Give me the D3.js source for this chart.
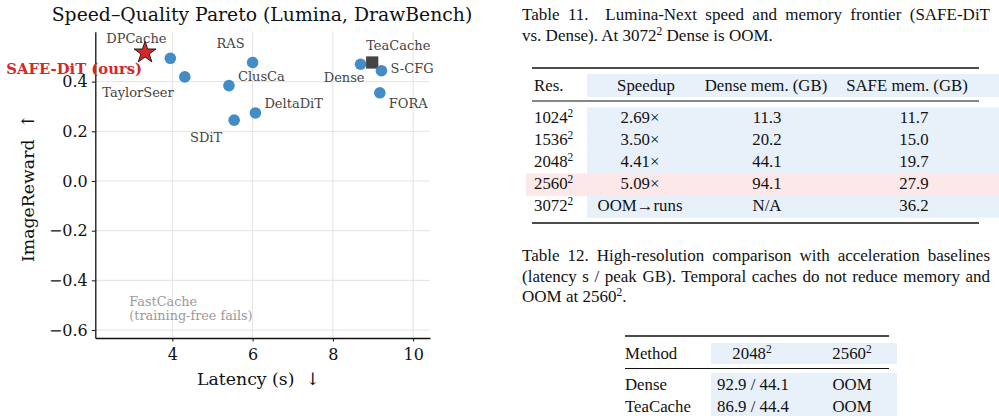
<!DOCTYPE html>
<html><head><meta charset="utf-8">
<script src="https://cdn.jsdelivr.net/npm/d3@7"></script>
<style>html,body{margin:0;padding:0;background:#fff;overflow:hidden}</style>
</head><body>
<svg id="c" width="999" height="416"></svg>
<script>
// ---------------- data ----------------
const methods  = ["SAFE-DiT (ours)","DPCache","TaylorSeer","RAS","ClusCa","DeltaDiT","SDiT","Dense","TeaCache","S-CFG","FORA","FastCache"];
const latency  = [3.32, 3.95, 4.31, 6.00, 5.41, 6.07, 5.54, 8.69, 8.98, 9.21, 9.17, 2.58];
const reward   = [0.517,0.494,0.419,0.477,0.384,0.274,0.245,0.470,0.477,0.444,0.355,-0.572];
const markers  = ["star","circle","circle","circle","circle","circle","circle","circle","square","circle","circle","cross"];
const xTicks   = [4,6,8,10];
const yTicks   = [-0.6,-0.4,-0.2,0.0,0.2,0.4];

const t11Header   = ["Res.","Speedup","Dense mem. (GB)","SAFE mem. (GB)"];
const t11Res      = ["1024","1536","2048","2560","3072"];
const t11Speedup  = ["2.69×","3.50×","4.41×","5.09×","OOM→runs"];
const t11DenseMem = ["11.3","20.2","44.1","94.1","N/A"];
const t11SafeMem  = ["11.7","15.0","19.7","27.9","36.2"];

const t12Header   = ["Method","2048","2560"];
const t12Methods  = ["Dense","TeaCache"];
const t12At2048   = ["92.9 / 44.1","86.9 / 44.4"];
const t12At2560   = ["OOM","OOM"];

// ---------------- chart ----------------
const svg = d3.select("#c");
const serif = "'DejaVu Serif', serif";
const times = "'Liberation Serif', 'Times New Roman', serif";

const x = d3.scaleLinear().domain([2.08,10.42]).range([95.3,430]);
const y = d3.scaleLinear().domain([-0.632,0.601]).range([338,31.7]);

const g = svg.append("g");
// grid
g.append("g").selectAll("line").data(xTicks).join("line")
  .attr("x1",d=>x(d)).attr("x2",d=>x(d)).attr("y1",y.range()[1]).attr("y2",y.range()[0])
  .attr("stroke","#e3e3e3").attr("stroke-width",1);
g.append("g").selectAll("line").data(yTicks).join("line")
  .attr("y1",d=>y(d)).attr("y2",d=>y(d)).attr("x1",x.range()[0]).attr("x2",x.range()[1])
  .attr("stroke","#e3e3e3").attr("stroke-width",1);

// axes
const xa = g.append("g").attr("transform",`translate(0,${y.range()[0]})`)
  .call(d3.axisBottom(x).tickValues(xTicks).tickSize(3.5).tickSizeOuter(0).tickPadding(7).tickFormat(d3.format("d")));
const ya = g.append("g").attr("transform",`translate(${x.range()[0]},0)`)
  .call(d3.axisLeft(y).tickValues(yTicks).tickSize(3.5).tickSizeOuter(0).tickPadding(4).tickFormat(d3.format(".1f")));
[xa,ya].forEach(a=>{
  a.selectAll("text").attr("font-family",serif).attr("font-size",16).attr("fill","#111");
  a.selectAll("line").attr("stroke","#111").attr("stroke-width",1);
  a.select(".domain").attr("stroke","#111").attr("stroke-width",1.3);
});

// title & labels
svg.append("text").attr("x",262).attr("y",21).attr("text-anchor","middle")
  .attr("font-family",serif).attr("font-size",18.8).attr("fill","#111")
  .text("Speed–Quality Pareto (Lumina, DrawBench)");
svg.append("text").attr("x",258.5).attr("y",385).attr("text-anchor","middle")
  .attr("font-family",serif).attr("font-size",17.3).attr("fill","#111")
  .attr("xml:space","preserve").text("Latency (s)  ↓");
svg.append("text").attr("transform","translate(34,188) rotate(-90)").attr("text-anchor","middle")
  .attr("font-family",serif).attr("font-size",17.3).attr("fill","#111")
  .attr("xml:space","preserve").text("ImageReward  ↑");

// points
const pts = methods.map((m,i)=>({m, lx:latency[i], r:reward[i], mk:markers[i]}));
const blue = "#3a86c2";
pts.forEach(p=>{
  const cx = x(p.lx), cy = y(p.r);
  if(p.mk==="circle"){
    g.append("circle").attr("cx",cx).attr("cy",cy).attr("r",5.8).attr("fill",blue).attr("fill-opacity",0.95);
  } else if(p.mk==="star"){
    g.append("path").attr("d",d3.symbol(d3.symbolStar,150)()).attr("transform",`translate(${cx},${cy})`)
      .attr("fill","#d62728").attr("stroke","#111").attr("stroke-width",0.9);
  } else if(p.mk==="square"){
    g.append("path").attr("d",d3.symbol(d3.symbolSquare,150)()).attr("transform",`translate(${cx},${cy})`)
      .attr("fill","#444");
  } else if(p.mk==="cross"){
    g.append("path").attr("d",d3.symbol(d3.symbolTimes,70)()).attr("transform",`translate(${cx},${cy})`)
      .attr("fill","#b0b0b0");
  }
});

// annotation offsets (style only)
const labelStyle = {
  "SAFE-DiT (ours)":{dx:-3, dy:21, a:"end"},
  "DPCache":{dx:-34, dy:-15, a:"middle"},
  "TaylorSeer":{dx:-11, dy:20, a:"end"},
  "RAS":{dx:-8, dy:-15, a:"end"},
  "ClusCa":{dx:9, dy:-5, a:"start"},
  "DeltaDiT":{dx:9, dy:-5, a:"start"},
  "SDiT":{dx:-12, dy:22, a:"end"},
  "Dense":{dx:4, dy:18, a:"end"},
  "TeaCache":{dx:-6, dy:-13, a:"start"},
  "S-CFG":{dx:9, dy:2, a:"start"},
  "FORA":{dx:9, dy:15, a:"start"},
  "FastCache":{dx:14, dy:-17, a:"start"}
};
pts.forEach(p=>{
  const s = labelStyle[p.m];
  const t = g.append("text").attr("x",x(p.lx)+s.dx).attr("y",y(p.r)+s.dy).attr("text-anchor",s.a)
    .attr("font-family",serif);
  if(p.m==="SAFE-DiT (ours)"){
    t.attr("font-size",14.8).attr("font-weight","bold").attr("fill","#d62728").text(p.m);
  } else if(p.m==="FastCache"){
    t.attr("font-size",12.8).attr("fill","#9a9a9a");
    t.append("tspan").attr("x",x(p.lx)+s.dx).text("FastCache");
    t.append("tspan").attr("x",x(p.lx)+s.dx).attr("dy",14).text("(training-free fails)");
  } else {
    t.attr("font-size",13).attr("fill","#444").text(p.m);
  }
});

// ---------------- tables ----------------
const tb = svg.append("g").attr("font-family",times).attr("fill","#111");
const capFs = 17, capLead = 20.5;
function justify(textSel, width){
  const node = textSel.node();
  const nat = node.getComputedTextLength();
  const nsp = (textSel.text().match(/ /g)||[]).length;
  if(nsp>0 && nat<width) textSel.attr("word-spacing",(width-nat)/nsp);
}
function supText(sel, base, sup, x0, y0, anchor, fs){
  const t = sel.append("text").attr("x",x0).attr("y",y0).attr("text-anchor",anchor).attr("font-size",fs);
  t.append("tspan").text(base);
  if(sup){ t.append("tspan").attr("dy",-6).attr("font-size",fs*0.68).text(sup); }
  return t;
}
// Table 11 caption
const cap11 = tb.append("text").attr("font-size",capFs).attr("xml:space","preserve")
  .attr("x",522).attr("y",20).text("Table 11.  Lumina-Next speed and memory frontier (SAFE-DiT");
justify(cap11, 468);
const c2 = tb.append("text").attr("font-size",capFs).attr("x",522).attr("y",20+capLead);
c2.append("tspan").text("vs. Dense). At 3072");
c2.append("tspan").attr("dy",-6).attr("font-size",11.5).text("2");
c2.append("tspan").attr("dy",6).text(" Dense is OOM.");

// Table 11 bands
const rowY11 = d3.scaleLinear().domain([0,1]).range([123,145]);
tb.append("rect").attr("x",587).attr("y",74).attr("width",412).attr("height",23).attr("fill","#e8f0fa");
t11Res.forEach((r,i)=>{
  const yc = rowY11(i);
  tb.append("rect").attr("x",i===3?526:587).attr("y",yc-15.5).attr("width",i===3?473:412).attr("height",22.3)
    .attr("fill",i===3?"#fce8e8":"#e8f0fa");
});
tb.append("line").attr("x1",532).attr("x2",979).attr("y1",68).attr("y2",68).attr("stroke","#111").attr("stroke-width",1.6);
tb.append("line").attr("x1",532).attr("x2",979).attr("y1",101).attr("y2",101).attr("stroke","#111").attr("stroke-width",1);
tb.append("line").attr("x1",532).attr("x2",979).attr("y1",223).attr("y2",223).attr("stroke","#111").attr("stroke-width",1.6);
const fs = 16.8;
tb.append("text").attr("x",534).attr("y",91).attr("font-size",fs).text(t11Header[0]);
tb.append("text").attr("x",646).attr("y",91).attr("text-anchor","middle").attr("font-size",fs).text(t11Header[1]);
tb.append("text").attr("x",766).attr("y",91).attr("text-anchor","middle").attr("font-size",fs).text(t11Header[2]);
tb.append("text").attr("x",907).attr("y",91).attr("text-anchor","middle").attr("font-size",fs).text(t11Header[3]);
t11Res.forEach((r,i)=>{
  const yy = rowY11(i);
  supText(tb, r, "2", 534, yy, "start", fs);
  tb.append("text").attr("x",640).attr("y",yy).attr("text-anchor","middle").attr("font-size",fs).text(t11Speedup[i]);
  tb.append("text").attr("x",767).attr("y",yy).attr("text-anchor","middle").attr("font-size",fs).text(t11DenseMem[i]);
  tb.append("text").attr("x",914).attr("y",yy).attr("text-anchor","middle").attr("font-size",fs).text(t11SafeMem[i]);
});

// Table 12 caption
const capLines = ["Table 12. High-resolution comparison with acceleration baselines",
                  "(latency s / peak GB). Temporal caches do not reduce memory and"];
const cap12Y = 261;
capLines.forEach((l,i)=>{
  const t = tb.append("text").attr("x",522).attr("y",cap12Y+i*capLead).attr("font-size",capFs).text(l);
  justify(t, 468);
});
const c3 = tb.append("text").attr("font-size",capFs).attr("x",522).attr("y",cap12Y+2*capLead);
c3.append("tspan").text("OOM at 2560");
c3.append("tspan").attr("dy",-6).attr("font-size",11.5).text("2");
c3.append("tspan").attr("dy",6).text(".");

// Table 12 body
tb.append("rect").attr("x",711).attr("y",343).attr("width",186).attr("height",21).attr("fill","#e8f0fa");
tb.append("rect").attr("x",711).attr("y",373).attr("width",186).attr("height",50).attr("fill","#e8f0fa");
tb.append("line").attr("x1",625).attr("x2",889).attr("y1",336).attr("y2",336).attr("stroke","#111").attr("stroke-width",1.6);
tb.append("line").attr("x1",625).attr("x2",889).attr("y1",368.5).attr("y2",368.5).attr("stroke","#111").attr("stroke-width",1);
tb.append("text").attr("x",625).attr("y",359).attr("font-size",fs).text(t12Header[0]);
supText(tb, t12Header[1], "2", 752, 359, "middle", fs);
supText(tb, t12Header[2], "2", 852, 359, "middle", fs);
t12Methods.forEach((m,i)=>{
  const yy = 390 + i*22;
  tb.append("text").attr("x",625).attr("y",yy).attr("font-size",fs).text(m);
  tb.append("text").attr("x",753).attr("y",yy).attr("text-anchor","middle").attr("font-size",fs).text(t12At2048[i]);
  tb.append("text").attr("x",852).attr("y",yy).attr("text-anchor","middle").attr("font-size",fs).text(t12At2560[i]);
});
</script>
</body></html>
